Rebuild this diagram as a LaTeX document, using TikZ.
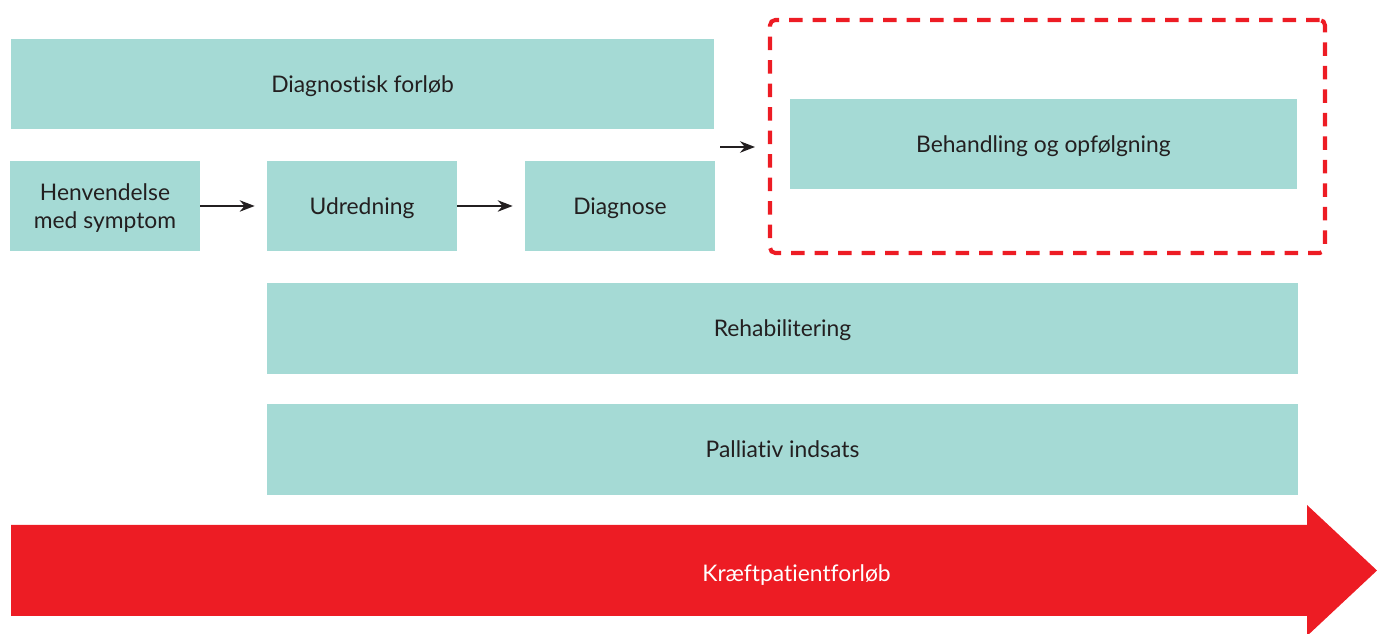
\documentclass[tikz,border=0pt]{standalone}
\usepackage{fontspec}
\setmainfont[Ligatures=NoCommon]{Lato}
\usetikzlibrary{arrows.meta,positioning,calc}
\definecolor{teal}{HTML}{A5DAD5}
\definecolor{kred}{HTML}{ED1C24}
\definecolor{ink}{HTML}{231F20}
\tikzset{
  >={Stealth[length=3mm,width=2.3mm]},
  phase/.style={fill=teal, draw=none, align=center, text=ink, text depth=0pt,
    font=\fontsize{13}{15.5}\selectfont, inner sep=0pt, minimum height=1.8cm},
  flow/.style={->, draw=ink, line width=0.8pt},
  frame/.style={draw=kred, line width=2.3pt, rounded corners=3pt,
    dash pattern=on 0.27cm off 0.2cm, inner sep=0pt},
  bigarrow/.style={fill=kred, draw=none},
}
\begin{document}
\begin{tikzpicture}
  \useasboundingbox (0,0) rectangle (27.54,12.68);

  % ---------------- diagnostic phase ----------------
  \node[phase, minimum width=14.06cm] (diag) at (7.25,11.0) {Diagnostisk forløb};
  \node[phase, minimum width=3.8cm] (henv) at (2.1,8.56) {Henvendelse\\med symptom};
  \node[phase, minimum width=3.8cm] (udr) at (7.24,8.56) {Udredning};
  \node[phase, minimum width=3.8cm] (dgn) at (12.4,8.56) {Diagnose};
  \draw[flow, shorten >=0.24cm] (henv) -- (udr);
  \draw[flow, shorten >=0.24cm] (udr) -- (dgn);

  % ---------------- treatment ----------------
  \node[frame, minimum width=11.1cm, minimum height=4.66cm] (box) at (20.95,9.95) {};
  \node[phase, minimum width=10.14cm] (beh) at (20.87,9.8) {Behandling og opfølgning};
  \coordinate (gap) at (14.4,9.74);
  \draw[flow, shorten >=0.26cm] (gap) -- (gap -| box.west);

  % ---------------- across the whole course ----------------
  \node[phase, minimum width=20.62cm, minimum height=1.82cm] (reha) at (15.65,6.11) {Rehabilitering};
  \node[phase, minimum width=20.62cm, minimum height=1.82cm] (pall) at (15.65,3.69) {Palliativ indsats};

  \fill[bigarrow] (0.22,2.18) -- (26.14,2.18) -- (26.14,2.58) -- (27.54,1.27)
    -- (26.14,-0.04) -- (26.14,0.36) -- (0.22,0.36) -- cycle;
  \node[text=white, text depth=0pt, font=\fontsize{13}{15.5}\selectfont] (kpf) at (15.93,1.22) {Kræftpatientforløb};
\end{tikzpicture}
\end{document}
